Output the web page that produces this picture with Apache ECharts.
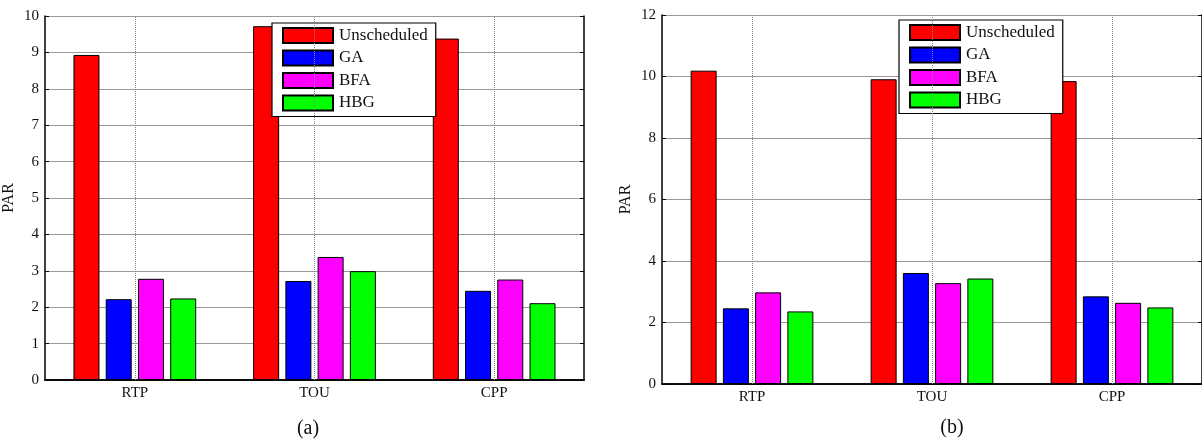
<!DOCTYPE html>
<html lang="en">
<head>
    <meta http-equiv="Content-Type" content="text/html; charset=UTF-8">
    <title>PAR comparison</title>
    <script type="text/javascript" src="https://cdn.jsdelivr.net/npm/echarts@6/dist/echarts.min.js"></script>
</head>
<body style="margin:0;background:#fff">
<div id="main" style="width:1202px;height:441px"></div>

<script type="text/javascript">
    // 数据
    var categories = ['RTP', 'TOU', 'CPP'];
    var seriesNames = ['Unscheduled', 'GA', 'BFA', 'HBG'];
    var seriesColors = ['#ff0000', '#0000ff', '#ff00ff', '#00ff00'];

    // (a)
    var unscheduledA = [8.93, 9.72, 9.38];
    var gaA = [2.22, 2.72, 2.45];
    var bfaA = [2.78, 3.38, 2.76];
    var hbgA = [2.24, 2.99, 2.11];

    // (b)
    var unscheduledB = [10.19, 9.91, 9.85];
    var gaB = [2.46, 3.61, 2.85];
    var bfaB = [2.98, 3.28, 2.64];
    var hbgB = [2.36, 3.43, 2.49];

    var font = '"Liberation Serif", "DejaVu Serif", serif';
    var myChart = echarts.init(document.getElementById('main'));

    function makeSeries(idx, lists) {
        var out = [{
            // 空的折线系列，只用来画类目中心的虚线网格
            name: 'grid' + idx,
            type: 'line',
            xAxisIndex: idx * 2,
            yAxisIndex: idx * 2,
            data: [],
            z: 1,
            markLine: {
                silent: true,
                symbol: ['none', 'none'],
                label: {show: false},
                animation: false,
                lineStyle: {color: '#888', type: 'dotted', width: 1},
                data: categories.map(function (c) { return {xAxis: c}; })
            }
        }];
        lists.forEach(function (data, i) {
            out.push({
                name: seriesNames[i],
                type: 'bar',
                xAxisIndex: idx * 2,
                yAxisIndex: idx * 2,
                data: data,
                barWidth: 26,
                barGap: '24%',
                z: 3,
                animation: false,
                itemStyle: {color: seriesColors[i], borderColor: '#000', borderWidth: 1}
            });
        });
        return out;
    }

    function xAxes(gridIndex) {
        return [{
            type: 'category', gridIndex: gridIndex, data: categories, position: 'bottom',
            axisLine: {lineStyle: {color: '#000', width: 1.5}},
            axisTick: {inside: true, alignWithLabel: true, length: 4, lineStyle: {color: '#000'}},
            axisLabel: {color: '#111', fontFamily: font, fontSize: 15, margin: 6},
            splitLine: {show: false}
        }, {
            type: 'category', gridIndex: gridIndex, data: categories, position: 'top',
            axisLine: {lineStyle: {color: '#000', width: 1.5}},
            axisTick: {inside: true, alignWithLabel: true, length: 4, lineStyle: {color: '#000'}},
            axisLabel: {show: false},
            splitLine: {show: false}
        }];
    }

    function yAxes(gridIndex, max, interval) {
        return [{
            type: 'value', gridIndex: gridIndex, min: 0, max: max, interval: interval, position: 'left',
            name: 'PAR', nameLocation: 'middle', nameGap: 28,
            nameTextStyle: {color: '#111', fontFamily: font, fontSize: 16},
            axisLine: {show: true, lineStyle: {color: '#000', width: 1.5}},
            axisTick: {show: true, inside: true, length: 4, lineStyle: {color: '#000'}},
            axisLabel: {color: '#111', fontFamily: font, fontSize: 15, margin: 6},
            splitLine: {show: true, lineStyle: {color: '#999', width: 1}}
        }, {
            type: 'value', gridIndex: gridIndex, min: 0, max: max, interval: interval, position: 'right',
            axisLine: {show: true, lineStyle: {color: '#000', width: 1.5}},
            axisTick: {show: true, inside: true, length: 4, lineStyle: {color: '#000'}},
            axisLabel: {show: false},
            splitLine: {show: false}
        }];
    }

    var legendBase = {
        data: seriesNames,
        orient: 'vertical',
        itemWidth: 50,
        itemHeight: 15,
        itemGap: 5.5,
        icon: 'rect',
        padding: [4, 8, 5, 10],
        backgroundColor: '#fff',
        borderColor: '#000',
        borderWidth: 1.2,
        borderRadius: 0,
        textStyle: {color: '#111', fontFamily: font, fontSize: 17, lineHeight: 15, padding: [0, 0, 0, 1]}
    };

    myChart.setOption({
        backgroundColor: '#fff',
        animation: false,
        grid: [
            {left: 44, top: 16, width: 540, height: 364, show: false},
            {left: 662, top: 15, width: 544, height: 369, show: false}
        ],
        xAxis: xAxes(0).concat(xAxes(1)),
        yAxis: yAxes(0, 10, 1).concat(yAxes(1, 12, 2)),
        legend: [
            Object.assign({}, legendBase, {left: 272, top: 23}),
            Object.assign({}, legendBase, {left: 899, top: 20})
        ],
        series: makeSeries(0, [unscheduledA, gaA, bfaA, hbgA])
            .concat(makeSeries(1, [unscheduledB, gaB, bfaB, hbgB])),
        graphic: [
            {type: 'text', x: 308, y: 429, style: {text: '(a)', font: '20px ' + font, fill: '#111', textAlign: 'center', textVerticalAlign: 'middle'}},
            {type: 'text', x: 952, y: 428, style: {text: '(b)', font: '20px ' + font, fill: '#111', textAlign: 'center', textVerticalAlign: 'middle'}}
        ]
    });
</script>
</body>
</html>
